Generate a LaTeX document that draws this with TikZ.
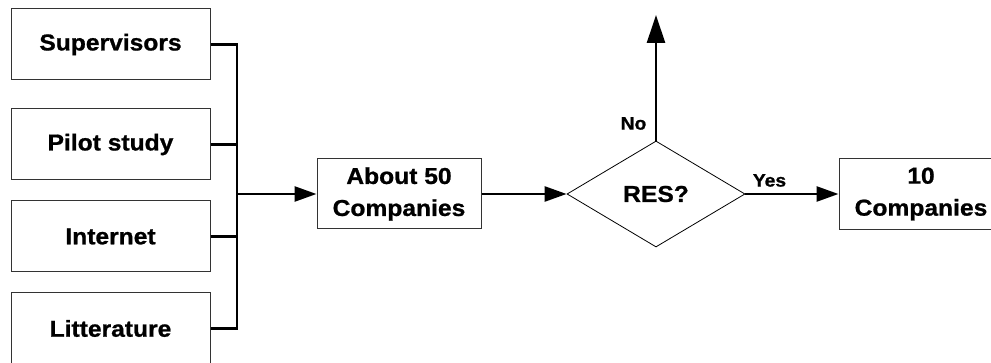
\documentclass[tikz,border=0pt]{standalone}
\usepackage{fontspec}
\setmainfont{Liberation Sans}[FakeStretch=1.07,FakeBold=0.9]
\usetikzlibrary{arrows.meta,shapes.geometric}
\begin{document}
\begin{tikzpicture}[x=1pt,y=-1pt,
  box/.style={draw=black!80, line width=1pt, rectangle, inner sep=0pt,
    minimum width=199pt, minimum height=71pt,
    font=\fontsize{23}{32}\selectfont\bfseries, align=center},
  midbox/.style={box, minimum width=164pt, minimum height=70pt},
  decision/.style={draw=black, line width=0.8pt, diamond, inner sep=0pt,
    minimum width=178pt, minimum height=106pt,
    font=\fontsize{23}{32}\selectfont\bfseries},
  lbl/.style={inner sep=0pt, font=\fontsize{18}{20}\selectfont\bfseries},
  conn/.style={line width=2.6pt, line join=miter},
  arr/.style={conn, -{Triangle[length=22pt,width=15pt]}},
  arrup/.style={conn, -{Triangle[length=28pt,width=18pt]}}]
\path[use as bounding box, clip] (0,0) rectangle (991,363);

% source boxes
\node[box] (sup) at (110.5,44.5) {Supervisors};
\node[box] (pil) at (110.5,144.5) {Pilot study};
\node[box] (int) at (110.5,236.5) {Internet};
\node[box] (lit) at (110.5,328.5) {Litterature};

% main flow
\node[midbox] (about) at (399,194) {About 50\\Companies};
\node[decision] (res) at (656,194) {RES?};
\node[midbox, minimum height=71pt] (ten) at (921,194) {10\\Companies};

% collecting bus
\coordinate (j) at (237,194);
\coordinate (top) at (656,15);
\draw[conn] (sup.east) -| (j) |- (lit.east);
\draw[conn] (pil.east) -- (pil.east -| j);
\draw[conn] (int.east) -- (int.east -| j);
\draw[arr] (j) -- (about.west);
\draw[arr] (about.east) -- (res.west);
\draw[arr] (res.east) -- (ten.west);
\draw[arrup] (res.north) -- (top);

% branch labels
\node[lbl] (no) at (633.5,123.5) {No};
\node[lbl] (yes) at (769.5,180.5) {Yes};
\end{tikzpicture}
\end{document}
